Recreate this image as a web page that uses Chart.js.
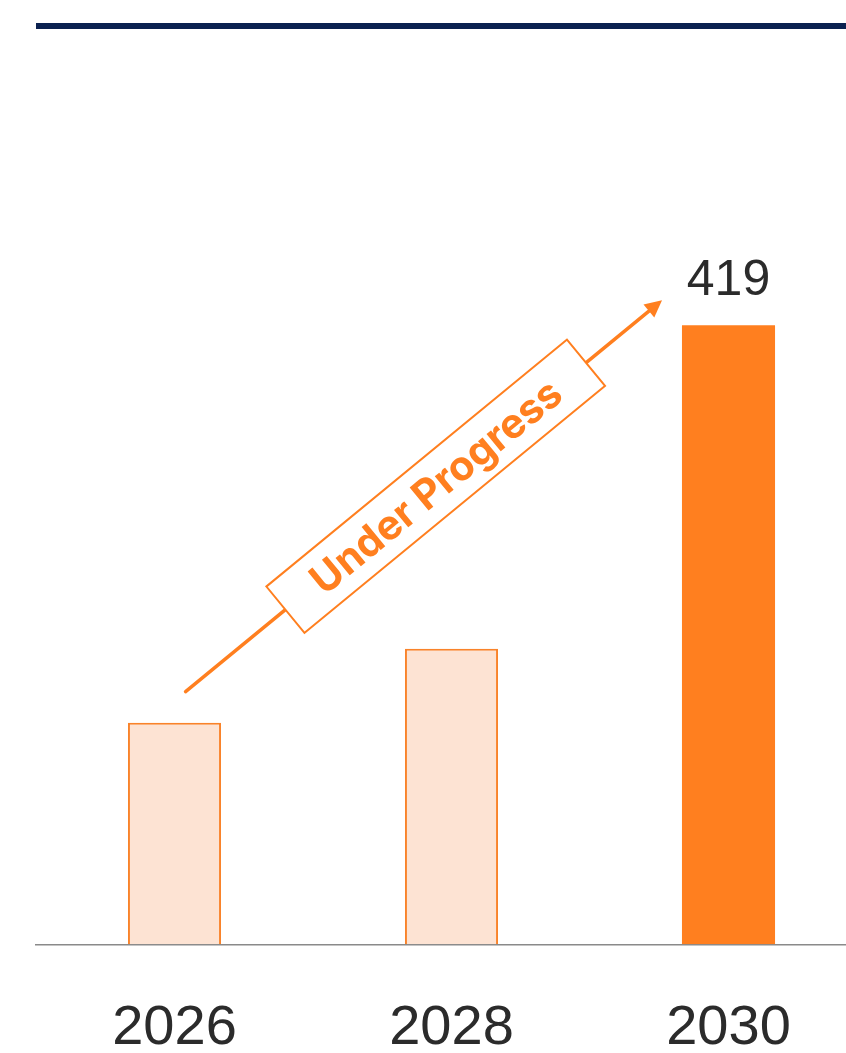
<!DOCTYPE html>
<html>
<head>
<meta charset="utf-8">
<script src="https://cdn.jsdelivr.net/npm/chart.js@4/dist/chart.umd.min.js"></script>
<style>
  html, body { margin: 0; padding: 0; background: #fff; overflow: hidden; width: 846px; height: 1053px; }
  #rule { position: absolute; left: 36px; top: 23px; width: 810px; height: 6px; background: #0b2150; }
  #wrap { position: absolute; left: 0; top: 0; width: 880px; height: 1131px; }
</style>
</head>
<body>
<div id="rule"></div>
<div id="wrap"><canvas id="c" width="880" height="1131"></canvas></div>
<script>
// Capacity by target year
const years = ['2026', '2028', '2030'];
const values = [150, 200, 419];
const labelled = [false, false, true];

// Trend arrow, in axis units (category index, value)
const arrowFrom = { x: 0.04, y: 171 };
const arrowTo = { x: 1.76, y: 436 };
const arrowText = 'Under Progress';

const ORANGE = '#ff7f1f';
const PEACH = '#fde3d3';
const EDGE = '#f9832a';

const fills = values.map((v, i) => labelled[i] ? ORANGE : PEACH);
const edges = values.map((v, i) => labelled[i] ? ORANGE : EDGE);
const widths = values.map((v, i) => labelled[i] ? 0 : 2);

const overlay = {
  id: 'overlay',
  afterDatasetsDraw(chart) {
    const ctx = chart.ctx;
    const xs = chart.scales.x, ys = chart.scales.y;

    // value label above highlighted bar
    const meta = chart.getDatasetMeta(0);
    ctx.save();
    ctx.fillStyle = '#2b2b2b';
    ctx.font = '50px "Liberation Sans", Arial, sans-serif';
    ctx.textAlign = 'center';
    ctx.textBaseline = 'alphabetic';
    meta.data.forEach((bar, i) => {
      if (labelled[i]) ctx.fillText(String(values[i]), bar.x, bar.y - 30);
    });
    ctx.restore();

    // arrow
    const x0 = xs.getPixelForValue(arrowFrom.x), y0 = ys.getPixelForValue(arrowFrom.y);
    const x1 = xs.getPixelForValue(arrowTo.x), y1 = ys.getPixelForValue(arrowTo.y);
    const ang = Math.atan2(y1 - y0, x1 - x0);
    const head = 17, half = 8.5;
    ctx.save();
    ctx.strokeStyle = ORANGE;
    ctx.fillStyle = ORANGE;
    ctx.lineWidth = 3.5;
    ctx.lineCap = 'round';
    ctx.beginPath();
    ctx.moveTo(x0, y0);
    ctx.lineTo(x1 - Math.cos(ang) * (head - 2), y1 - Math.sin(ang) * (head - 2));
    ctx.stroke();
    ctx.beginPath();
    ctx.moveTo(x1, y1);
    ctx.lineTo(x1 - Math.cos(ang) * head - Math.sin(ang) * half, y1 - Math.sin(ang) * head + Math.cos(ang) * half);
    ctx.lineTo(x1 - Math.cos(ang) * head + Math.sin(ang) * half, y1 - Math.sin(ang) * head - Math.cos(ang) * half);
    ctx.closePath();
    ctx.fill();

    // tag box on the arrow
    const t = 0.525;
    const cx = x0 + (x1 - x0) * t, cy = y0 + (y1 - y0) * t;
    const bw = 389, bh = 60;
    ctx.translate(cx, cy);
    ctx.rotate(ang);
    ctx.fillStyle = '#fff';
    ctx.fillRect(-bw / 2, -bh / 2, bw, bh);
    ctx.lineWidth = 2;
    ctx.strokeStyle = ORANGE;
    ctx.strokeRect(-bw / 2, -bh / 2, bw, bh);
    ctx.fillStyle = ORANGE;
    ctx.font = 'bold 41px Inter, "Open Sans", sans-serif';
    ctx.textAlign = 'center';
    ctx.textBaseline = 'middle';
    ctx.fillText(arrowText, 0, 2);
    ctx.restore();
  }
};

new Chart(document.getElementById('c'), {
  type: 'bar',
  data: {
    labels: years,
    datasets: [{
      data: values,
      backgroundColor: fills,
      borderColor: edges,
      borderWidth: widths,
      categoryPercentage: 0.336,
      barPercentage: 1
    }]
  },
  options: {
    responsive: false,
    devicePixelRatio: 1,
    animation: false,
    layout: { padding: { top: 58, left: 36, right: 13, bottom: 17.5 } },
    plugins: { legend: { display: false }, tooltip: { enabled: false } },
    scales: {
      x: {
        offset: true,
        grid: { display: false, drawTicks: false },
        border: { display: true, color: '#8a8a8a', width: 1.5 },
        ticks: {
          color: '#2b2b2b',
          padding: 51,
          font: { family: '"Liberation Sans", Arial, sans-serif', size: 56 }
        }
      },
      y: {
        display: false,
        min: 0,
        max: 600
      }
    }
  },
  plugins: [overlay]
});
</script>
</body>
</html>
